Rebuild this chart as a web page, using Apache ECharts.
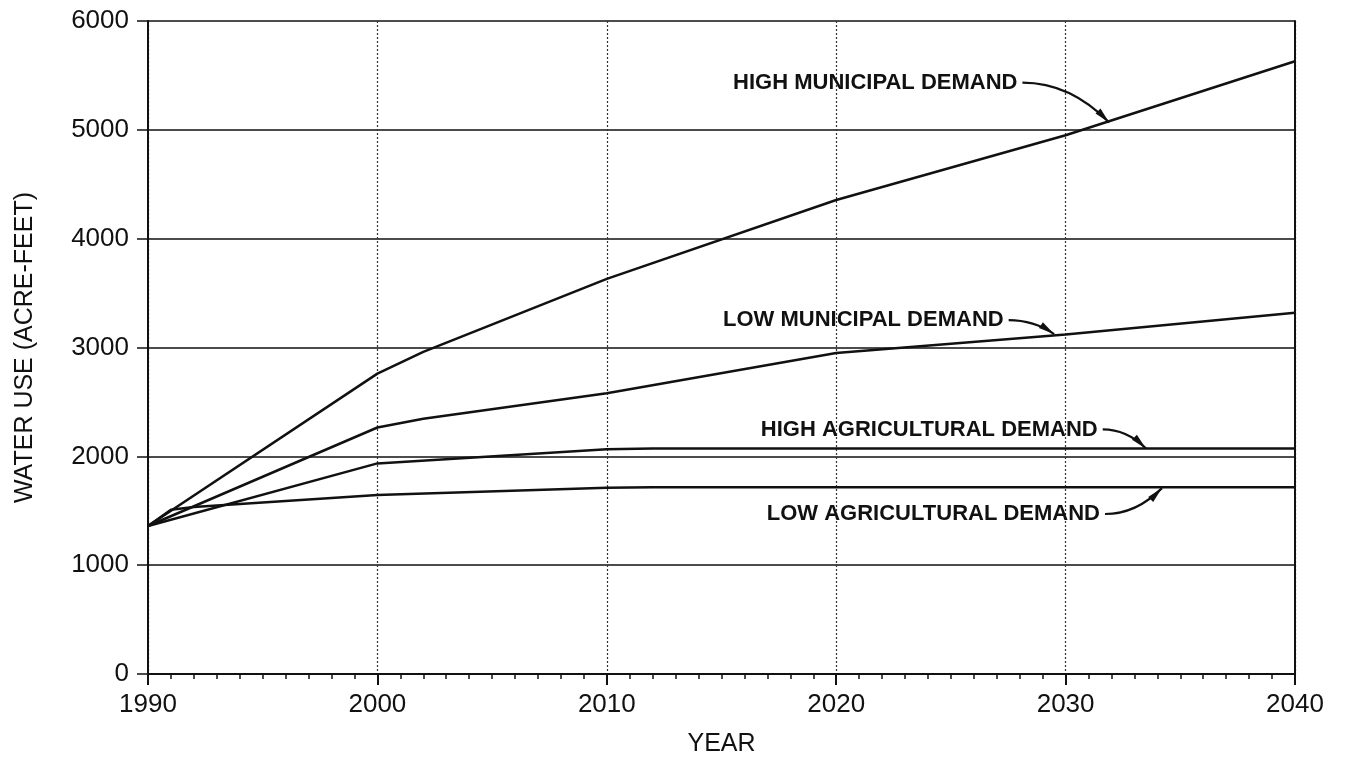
<!DOCTYPE html>
<html>
<head>
<meta charset="utf-8">
<script src="https://cdn.jsdelivr.net/npm/echarts@6/dist/echarts.min.js"></script>
<style>
html,body{margin:0;padding:0;background:#fff;}
#chart{width:1346px;height:762px;}
</style>
</head>
<body>
<div id="chart"></div>
<script>
// ---- data ----
var seriesNames = ['HIGH MUNICIPAL DEMAND', 'LOW MUNICIPAL DEMAND', 'HIGH AGRICULTURAL DEMAND', 'LOW AGRICULTURAL DEMAND'];
var highMunicipal = [[1990,1360],[2000,2760],[2002,2960],[2010,3630],[2020,4355],[2030,4950],[2040,5630]];
var lowMunicipal = [[1990,1360],[2000,2265],[2002,2345],[2010,2580],[2020,2950],[2030,3120],[2040,3320]];
var highAgricultural = [[1990,1360],[2000,1935],[2010,2065],[2012,2072],[2040,2072]];
var lowAgricultural = [[1990,1360],[1991,1510],[1992,1535],[2000,1645],[2010,1712],[2012,1715],[2040,1715]];
var xTicks = [1990, 2000, 2010, 2020, 2030, 2040];
var yTicks = [0, 1000, 2000, 3000, 4000, 5000, 6000];
// annotation: text right-end anchor and arrow tip, in data coordinates
var labelAnchors = [[2027.9, 5434], [2027.3, 3251], [2031.4, 2247], [2031.5, 1470]];
var arrowTips = [[2031.9, 5068], [2029.5, 3123], [2033.5, 2073], [2034.2, 1708]];

var ink = '#111';
var font = '"Liberation Sans", Arial, Helvetica, sans-serif';
var chart = echarts.init(document.getElementById('chart'));

function mkSeries(name, data) {
  return {
    name: name, type: 'line', data: data, symbol: 'none', smooth: false,
    lineStyle: { color: ink, width: 2.5 }, z: 5, animation: false
  };
}

chart.setOption({
  animation: false,
  backgroundColor: '#fff',
  grid: { left: 148, right: 51, top: 21, bottom: 84 },
  xAxis: {
    type: 'value', min: xTicks[0], max: xTicks[xTicks.length - 1], interval: 10,
    name: 'YEAR', nameLocation: 'middle', nameGap: 58,
    nameTextStyle: { fontFamily: font, fontSize: 25, color: ink },
    axisLine: { show: true, lineStyle: { color: ink, width: 2 } },
    axisTick: { show: true, inside: false, length: 11, lineStyle: { color: ink, width: 2 } },
    minorTick: { show: true, splitNumber: 10, length: 5, lineStyle: { color: ink, width: 1.5 } },
    axisLabel: { fontFamily: font, fontSize: 26, color: ink, margin: 18,
      formatter: function (v) { return String(v); } },
    splitLine: { show: true, lineStyle: { color: '#333', width: 1.2, type: [2, 2] } }
  },
  yAxis: [{
    type: 'value', min: yTicks[0], max: yTicks[yTicks.length - 1], interval: 1000,
    name: 'WATER USE (ACRE-FEET)', nameLocation: 'middle', nameGap: 110,
    nameTextStyle: { fontFamily: font, fontSize: 25, color: ink },
    axisLine: { show: true, lineStyle: { color: ink, width: 2 } },
    axisTick: { show: true, inside: false, length: 11, lineStyle: { color: ink, width: 1.5 } },
    axisLabel: { fontFamily: font, fontSize: 26, color: ink, margin: 19,
      formatter: function (v) { return String(v); } },
    splitLine: { show: true, lineStyle: { color: ink, width: 1.6 } }
  }, {
    type: 'value', min: 0, max: 6000, interval: 1000, position: 'right',
    axisLine: { show: true, lineStyle: { color: ink, width: 2 } },
    axisTick: { show: false }, axisLabel: { show: false }, splitLine: { show: false }
  }],
  series: [
    mkSeries(seriesNames[0], highMunicipal),
    mkSeries(seriesNames[1], lowMunicipal),
    mkSeries(seriesNames[2], highAgricultural),
    mkSeries(seriesNames[3], lowAgricultural)
  ]
});

function drawAnnotations() {
  var elements = [];
  for (var i = 0; i < seriesNames.length; i++) {
    var a = chart.convertToPixel({ gridIndex: 0 }, labelAnchors[i]);
    var t = chart.convertToPixel({ gridIndex: 0 }, arrowTips[i]);
    elements.push({
      type: 'text', x: a[0], y: a[1], z: 10,
      style: { text: seriesNames[i], fill: ink, font: 'bold 22px ' + font,
        textAlign: 'right', textVerticalAlign: 'middle' }
    });
    var sx = a[0] + 5, sy = a[1];
    var cx = sx + (t[0] - sx) * 0.55, cy = sy;
    elements.push({
      type: 'bezierCurve', z: 10,
      shape: { x1: sx, y1: sy, x2: t[0], y2: t[1], cpx1: cx, cpy1: cy },
      style: { stroke: ink, lineWidth: 2.2, fill: null }
    });
    var dx = t[0] - cx, dy = t[1] - cy, len = Math.sqrt(dx * dx + dy * dy);
    dx /= len; dy /= len;
    var px = -dy, py = dx, L = 16, W = 3.5;
    elements.push({
      type: 'polygon', z: 10,
      shape: { points: [[t[0], t[1]],
        [t[0] - dx * L + px * W, t[1] - dy * L + py * W],
        [t[0] - dx * L - px * W, t[1] - dy * L - py * W]] },
      style: { fill: ink }
    });
  }
  chart.setOption({ graphic: { elements: elements } });
}
drawAnnotations();
</script>
</body>
</html>
